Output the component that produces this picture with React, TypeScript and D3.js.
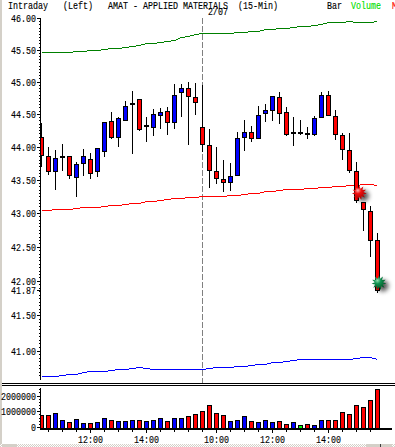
import React from "react";
import * as d3 from "d3";

const opens = [44.16,43.87,43.64,43.85,43.87,43.55,43.76,43.82,43.64,43.94,44.40,44.16,44.41,44.66,44.74,44.32,44.31,44.49,44.55,44.38,44.85,44.91,44.77,44.31,44.03,43.64,43.52,43.47,43.58,44.16,44.23,44.14,44.52,44.57,44.77,44.53,44.22,44.23,44.21,44.20,44.46,44.80,44.47,44.19,43.96,43.64,43.17,43.04,42.60];
const highs = [44.37,44.00,43.96,44.05,43.87,43.77,43.97,43.91,43.99,44.38,44.53,44.46,44.70,44.86,44.74,44.46,44.58,44.60,44.61,44.97,44.97,45.01,44.98,44.95,44.28,44.00,43.80,43.76,44.23,44.41,44.32,44.63,44.66,44.78,44.85,44.61,44.46,44.41,44.31,44.47,44.85,44.86,44.57,44.22,44.22,43.77,43.17,43.11,42.71];
const lows = [43.70,43.58,43.35,43.64,43.52,43.25,43.56,43.52,43.55,43.85,44.13,44.00,44.40,43.90,44.25,44.08,44.17,44.28,44.19,44.28,44.46,44.03,44.49,43.93,43.38,43.44,43.32,43.34,43.56,43.94,44.08,44.13,44.38,44.40,44.35,44.17,44.02,44.19,44.13,44.17,44.44,44.47,44.11,43.80,43.61,43.16,42.74,42.35,41.83];
const closes = [43.88,43.64,43.83,43.86,43.58,43.74,43.87,43.61,43.99,44.38,44.16,44.44,44.63,44.67,44.28,44.33,44.50,44.53,44.38,44.80,44.91,44.78,44.69,44.05,43.65,43.53,43.47,43.56,44.14,44.23,44.14,44.49,44.57,44.78,44.52,44.20,44.23,44.23,44.20,44.44,44.80,44.49,44.20,43.97,43.65,43.20,43.07,42.60,41.87];
const volumes = [0.8,0.8,0.93,0.5,0.37,0.55,0.31,0.31,0.37,0.62,0.5,0.43,0.43,0.5,0.5,0.43,0.5,0.62,0.43,0.62,0.62,0.75,0.87,1.06,1.44,0.94,0.81,0.44,0.5,0.75,0.44,0.37,0.5,0.37,0.44,0.25,0.37,0.19,0.25,0.19,0.5,0.5,0.5,1.0,0.87,1.44,1.31,1.75,2.44].map((v) => v * 1e6);
const upperBand = [45.47,45.47,45.47,45.48,45.48,45.49,45.49,45.51,45.51,45.52,45.53,45.54,45.55,45.57,45.59,45.61,45.62,45.63,45.65,45.66,45.71,45.73,45.75,45.77,45.77,45.77,45.77,45.77,45.79,45.79,45.81,45.81,45.83,45.84,45.85,45.86,45.87,45.88,45.89,45.90,45.92,45.94,45.94,45.94,45.96,45.95,45.94,45.94,45.96];
const midBand = [43.05,43.05,43.06,43.06,43.07,43.08,43.09,43.10,43.10,43.11,43.12,43.13,43.14,43.155,43.16,43.18,43.19,43.20,43.215,43.225,43.235,43.245,43.25,43.26,43.26,43.26,43.265,43.27,43.275,43.285,43.30,43.31,43.33,43.34,43.35,43.36,43.365,43.37,43.375,43.38,43.39,43.40,43.41,43.415,43.425,43.425,43.435,43.435,43.42];
const lowerBand = [40.64,40.64,40.64,40.66,40.67,40.68,40.70,40.71,40.72,40.72,40.73,40.74,40.75,40.76,40.77,40.76,40.75,40.75,40.75,40.75,40.75,40.74,40.74,40.74,40.76,40.77,40.77,40.78,40.79,40.79,40.80,40.81,40.82,40.84,40.85,40.86,40.87,40.88,40.88,40.88,40.88,40.88,40.88,40.89,40.89,40.90,40.91,40.91,40.89];
const priceTicks = [46, 45.5, 45, 44.5, 44, 43.5, 43, 42.5, 42, 41.87, 41.5, 41];
const volumeTicks = [0, 1000000, 2000000];
const timeLabels: [number, string][] = [[7, "12:00"], [15, "14:00"], [25, "10:00"], [33, "12:00"], [41, "14:00"]];
const sessionBreak = 23;
const markers: { bar: number; price: number; kind: string }[] = [
  { bar: 45.4, price: 43.31, kind: "red" },
  { bar: 48.2, price: 41.98, kind: "green" },
];
const titles: [string, number, string][] = [
  ["Intraday", 8, "#000"],
  ["(Left)", 63, "#000"],
  ["AMAT - APPLIED MATERIALS", 108, "#000"],
  ["(15-Min)", 238, "#000"],
  ["Bar", 327, "#000"],
  ["Volume", 351, "#00e000"],
  ["M", 392, "#f00"],
];

const FONT = "'Liberation Mono', monospace";
const x = d3.scaleLinear().domain([0, 48]).range([41.5, 377.5]);
const y = d3.scaleLog().domain([46, 41]).range([18.7, 351]);
const v = d3.scaleLinear().domain([0, 2000000]).range([427.5, 396]);
const idx = d3.range(opens.length);
const bandLine = (vals: number[]) =>
  d3.line<number>().x((i) => x(i)).y((i) => Math.round(y(vals[i])) + 0.5)(idx) as string;
const star = d3.lineRadial<number>()
  .angle((k) => (k * Math.PI) / 11)
  .radius((k) => (k % 2 ? 4.2 : 7.4))
  .curve(d3.curveLinearClosed);
const starPath = star(d3.range(22)) as string;

function Label(p: { t: string; x: number; y: number; anchor?: string; fill?: string }) {
  const w = p.t.length * 5;
  const left = p.anchor === "end" ? p.x - w : p.anchor === "middle" ? p.x - w / 2 : p.x;
  return (
    <text x={left} y={p.y} fontFamily={FONT} fontSize={11} fill={p.fill || "#000"} textLength={w} lengthAdjust="spacingAndGlyphs" stroke={p.fill || "#000"} strokeWidth={0.15}>
      {p.t}
    </text>
  );
}

const colorOf = (i: number) => (closes[i] > opens[i] ? "#0000ff" : closes[i] < opens[i] ? "#ff0000" : "#00ff00");

export default function App() {
  const priceMinor = d3.range(40.65, 46.001, 0.05);
  const volMinor = d3.range(0, 2500001, 200000);
  const oddBars = idx.filter((i) => i % 2 === 1);
  return (
    <svg width={395} height={447} style={{ position: "fixed", left: 0, top: 0, display: "block", background: "#fff" }}>
      <defs>
        <clipPath id="plot"><rect x={41} y={0} width={354} height={447} /></clipPath>
        <radialGradient id="grad-red" cx="40%" cy="35%" r="65%">
          <stop offset="0%" stopColor="#ffb0b0" /><stop offset="35%" stopColor="#f01010" /><stop offset="100%" stopColor="#a00000" />
        </radialGradient>
        <radialGradient id="grad-green" cx="40%" cy="35%" r="65%">
          <stop offset="0%" stopColor="#90e0b0" /><stop offset="35%" stopColor="#109050" /><stop offset="100%" stopColor="#005020" />
        </radialGradient>
        <filter id="blur" x="-60%" y="-60%" width="220%" height="220%"><feGaussianBlur stdDeviation="2" /></filter>
        <pattern id="dither" width={2} height={2} patternUnits="userSpaceOnUse">
          <rect width={2} height={2} fill="#fff" />
          <rect width={1} height={1} fill="#d4d0c8" />
          <rect x={1} y={1} width={1} height={1} fill="#d4d0c8" />
        </pattern>
      </defs>

      <rect x={0} y={0} width={395} height={447} fill="#fff" />
      <rect x={0} y={0} width={2} height={447} fill="#d4d0c8" />
      <rect x={0} y={444} width={395} height={3} fill="url(#dither)" />
      <rect x={2} y={444} width={15} height={3} fill="#d4d0c8" />
      <rect x={366} y={444} width={26} height={3} fill="#d4d0c8" />
      <rect x={380} y={444} width={1} height={3} fill="#404040" />

      {titles.map(([t, px, c]) => <Label key={t} t={t} x={px} y={8.5} fill={c} />)}
      <Label t="2/07" x={208} y={15} />

      <line x1={x(sessionBreak)} x2={x(sessionBreak)} y1={18} y2={383} stroke="#808080" strokeDasharray="6 2" shapeRendering="crispEdges" />

      <g shapeRendering="crispEdges" fill="none" strokeWidth={1}>
        <path d={bandLine(upperBand)} stroke="#008000" />
        <path d={bandLine(midBand)} stroke="#ff0000" />
        <path d={bandLine(lowerBand)} stroke="#0000ff" />
      </g>

      <g clipPath="url(#plot)" shapeRendering="crispEdges">
        {idx.map((i) => {
          const top = Math.round(Math.min(y(opens[i]), y(closes[i])));
          const bot = Math.round(Math.max(y(opens[i]), y(closes[i])));
          return (
            <g key={i}>
              <line x1={x(i)} x2={x(i)} y1={y(highs[i])} y2={y(lows[i])} stroke="#000" />
              <rect x={x(i) - 2} y={top + 0.5} width={4} height={Math.max(bot - top, 1)} fill={colorOf(i)} stroke="#000" />
            </g>
          );
        })}
        {idx.map((i) => (
          <rect key={i} x={x(i) - 2} y={Math.round(v(volumes[i])) + 0.5} width={4} height={428 - Math.round(v(volumes[i]))} fill={colorOf(i)} stroke="#000" />
        ))}
      </g>

      {markers.map((m) => (
        <g key={m.kind} transform={`translate(${x(m.bar)},${y(m.price)})`}>
          <path d={starPath} transform="translate(4,3)" fill="#000" opacity={0.65} filter="url(#blur)" />
          <path d={starPath} fill={`url(#grad-${m.kind})`} />
        </g>
      ))}

      <g shapeRendering="crispEdges" stroke="#000">
        <line x1={40.5} x2={40.5} y1={18} y2={380} />
        {priceMinor.map((p) => <line key={p} x1={38.5} x2={40.5} y1={y(p)} y2={y(p)} />)}
        {priceTicks.map((p) => <line key={p} x1={36.5} x2={40.5} y1={y(p)} y2={y(p)} />)}

        <line x1={2} x2={395} y1={383.5} y2={383.5} />
        <line x1={2} x2={395} y1={385.5} y2={385.5} />

        <line x1={40.5} x2={40.5} y1={388} y2={429} />
        {volMinor.map((t) => <line key={t} x1={38.5} x2={40.5} y1={v(t)} y2={v(t)} />)}
        {volumeTicks.map((t) => <line key={t} x1={36.5} x2={40.5} y1={v(t)} y2={v(t)} />)}
        <line x1={40} x2={392} y1={428.5} y2={428.5} strokeWidth={2} />
        {oddBars.map((i) => <line key={i} x1={x(i)} x2={x(i)} y1={429} y2={timeLabels.some((l) => l[0] === i) ? 433 : 431.5} />)}
      </g>

      {priceTicks.map((p) => <Label key={p} t={p.toFixed(2)} x={36} y={y(p) + 3.5} anchor="end" />)}
      {volumeTicks.map((t) => <Label key={t} t={String(t)} x={36} y={v(t) + 3.5} anchor="end" />)}
      {timeLabels.map(([i, t]) => <Label key={i} t={t} x={x(i)} y={443} anchor="middle" />)}
    </svg>
  );
}
